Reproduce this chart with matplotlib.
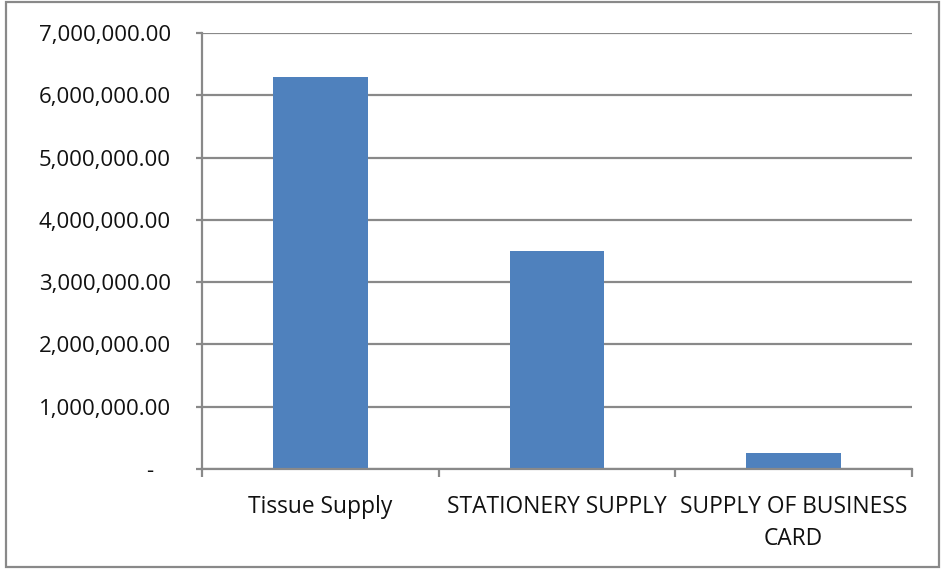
import matplotlib.pyplot as plt
from matplotlib.patches import Rectangle
from matplotlib.ticker import FuncFormatter
import numpy as np

categories = ['Tissue Supply', 'STATIONERY SUPPLY', 'SUPPLY OF BUSINESS\nCARD']
amounts = [6290000, 3505000, 252000]

plt.rcParams['font.family'] = ['Open Sans', 'DejaVu Sans']
grid_col = '#898989'

fig = plt.figure(figsize=(9.41, 5.69), dpi=100)
ax = fig.add_axes([0.2147, 0.1757, 0.7545, 0.7663])

x = np.arange(len(categories))
ax.bar(x, amounts, width=0.4, color='#4F81BD', zorder=3)

ax.set_xlim(-0.5, len(categories) - 0.5)
ax.set_ylim(0, 7000000)
ax.set_yticks(np.arange(0, 7000001, 1000000))

# accounting style: zero shows as a dash, padded like the decimals
def money(v, pos):
    if v == 0:
        return '-   '
    return f'{v:,.2f}'

ax.yaxis.set_major_formatter(FuncFormatter(money))
ax.yaxis.grid(True, color=grid_col, linewidth=1.6, zorder=0)

# category boundaries carry the x ticks, labels sit in the middle
ax.set_xticks(np.arange(-0.5, len(categories), 1.0))
ax.set_xticklabels([])
ax.set_xticks(x, minor=True)
ax.set_xticklabels(categories, minor=True, fontsize=16.4, color='#111111', linespacing=1.45)
ax.tick_params(axis='x', which='minor', length=0, pad=18.5)
ax.tick_params(axis='x', which='major', length=6, width=1.6, color=grid_col, direction='out')
ax.tick_params(axis='y', length=4.3, width=1.6, color=grid_col, labelsize=16, labelcolor='#111111', pad=18)

for side in ['top', 'right']:
    ax.spines[side].set_visible(False)
for side in ['left', 'bottom']:
    ax.spines[side].set_color(grid_col)
    ax.spines[side].set_linewidth(1.6)
    ax.spines[side].set_zorder(4)

# chart area outline
fig.patches.append(Rectangle((0.0064, 0.003), 0.991, 0.994, transform=fig.transFigure,
                             fill=False, edgecolor=grid_col, linewidth=1.6))

fig.savefig('out.png', dpi=100)
